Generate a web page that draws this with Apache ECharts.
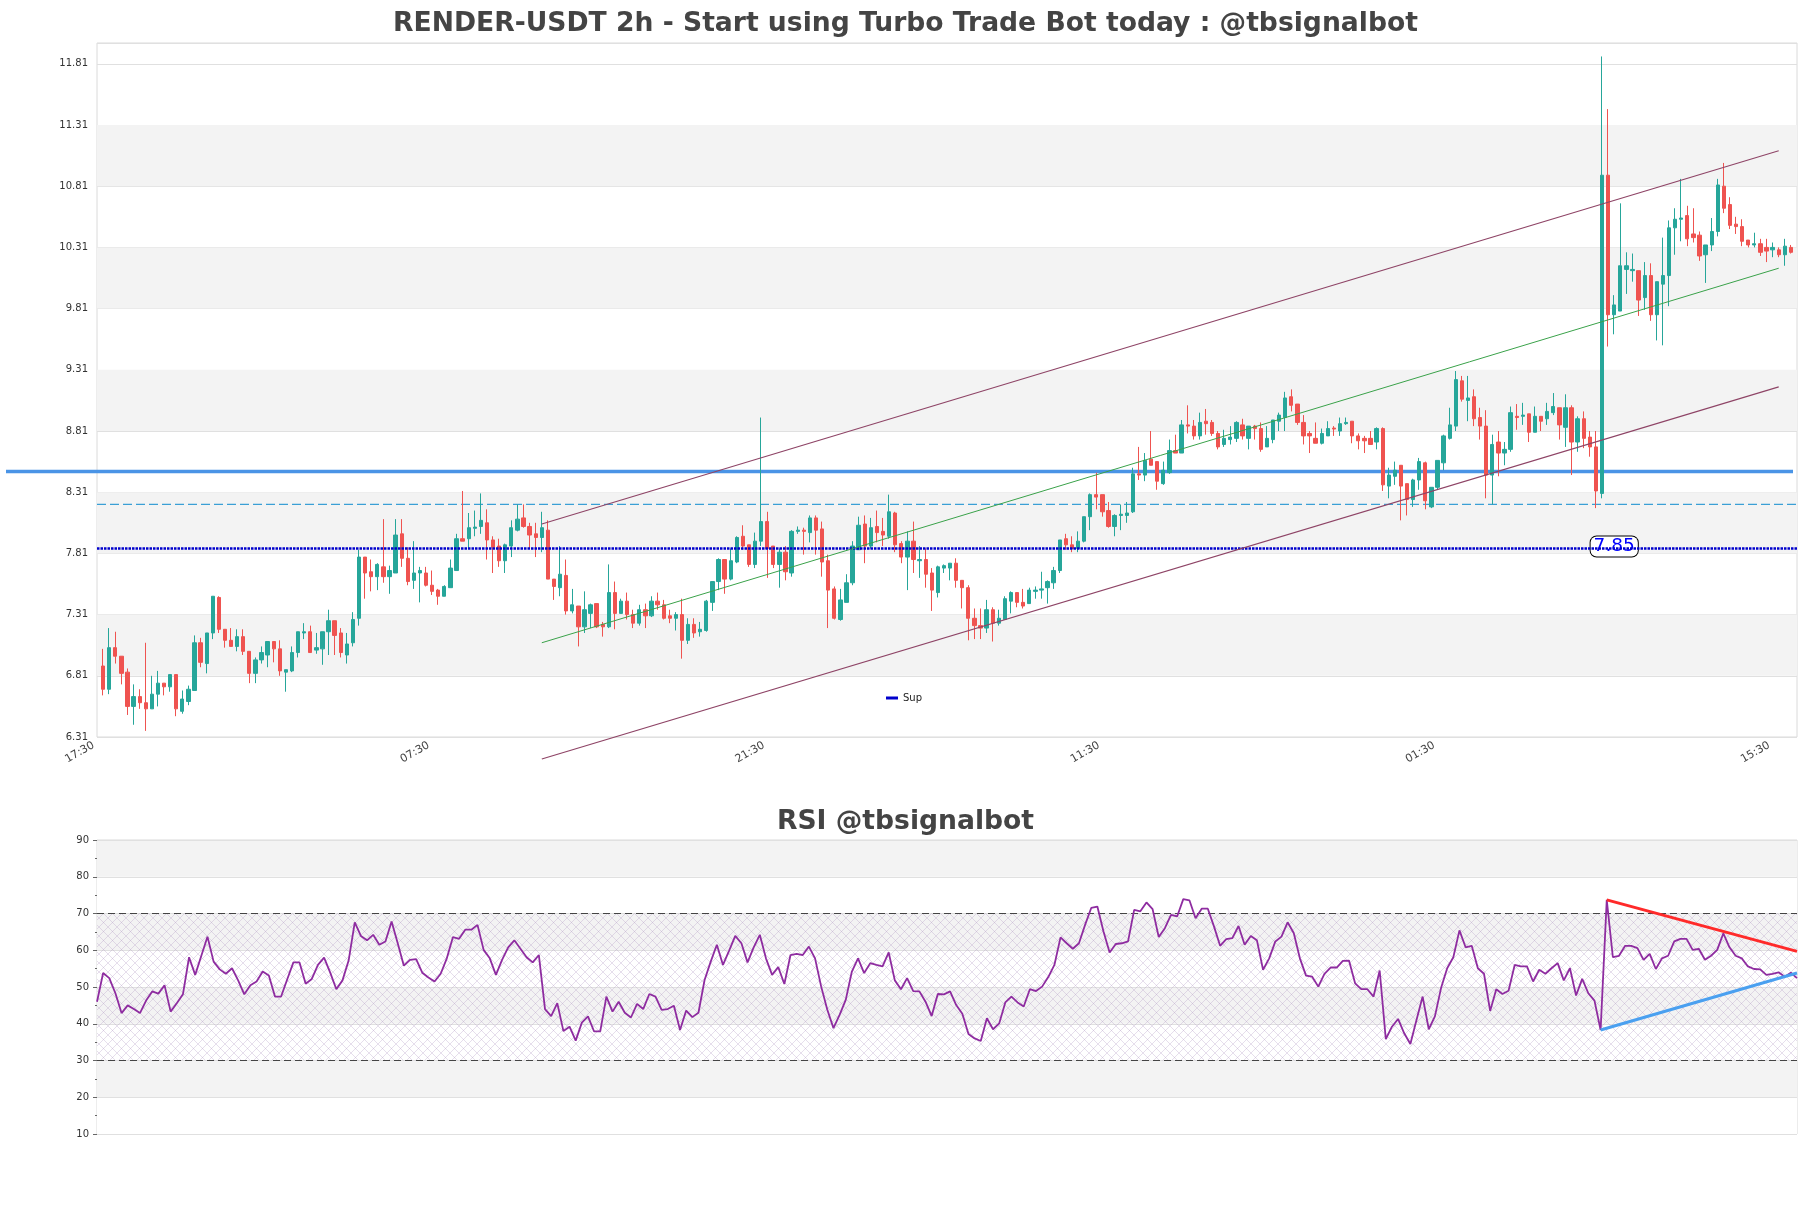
<!DOCTYPE html>
<html><head><meta charset="utf-8">
<script src="https://cdn.jsdelivr.net/npm/echarts@6/dist/echarts.min.js"></script>
<style>html,body{margin:0;padding:0;background:#fff}#c{width:1811px;height:1208px}</style>
</head><body><div id="c"></div><script>
// ---- data ----
const open=[6.89,6.70,7.04,6.97,6.84,6.56,6.64,6.59,6.54,6.66,6.75,6.72,6.82,6.52,6.60,6.69,7.08,6.91,7.16,7.45,7.19,7.10,7.05,7.13,7.01,6.83,6.94,6.98,7.09,7.03,6.84,6.85,7.00,7.16,7.17,7.02,7.03,7.17,7.26,7.16,6.98,7.08,7.28,7.78,7.66,7.62,7.70,7.62,7.65,7.97,7.77,7.59,7.65,7.65,7.55,7.51,7.46,7.53,7.67,7.93,7.93,8.015,8.03,8.06,7.92,7.87,7.75,7.87,8.00,8.10,8.03,7.97,7.94,8.00,7.60,7.53,7.63,7.34,7.38,7.21,7.32,7.40,7.23,7.21,7.49,7.32,7.42,7.31,7.24,7.35,7.30,7.42,7.39,7.30,7.28,7.31,7.10,7.23,7.17,7.18,7.41,7.58,7.76,7.60,7.74,7.95,7.88,7.72,7.91,8.07,7.87,7.72,7.82,7.65,7.99,8.00,7.98,8.10,8.01,7.75,7.52,7.27,7.41,7.57,7.84,8.05,7.87,8.03,7.99,7.95,8.14,7.89,7.78,7.91,7.75,7.76,7.65,7.49,7.69,7.69,7.73,7.59,7.53,7.28,7.22,7.20,7.35,7.24,7.27,7.42,7.49,7.41,7.40,7.50,7.51,7.53,7.57,7.67,7.93,7.88,7.85,7.91,8.11,8.29,8.29,8.16,8.03,8.12,8.12,8.15,8.46,8.45,8.58,8.56,8.38,8.47,8.65,8.63,8.86,8.85,8.77,8.89,8.88,8.79,8.70,8.74,8.75,8.86,8.75,8.85,8.83,8.68,8.74,8.89,8.92,9.09,9.03,8.88,8.79,8.75,8.71,8.77,8.834,8.81,8.87,8.89,8.77,8.75,8.75,8.72,8.83,8.36,8.44,8.53,8.38,8.25,8.41,8.55,8.19,8.35,8.55,8.75,8.85,9.22,9.06,9.09,8.92,8.85,8.45,8.72,8.63,8.66,8.93,8.93,8.95,8.80,8.93,8.91,8.96,9.00,8.84,9.00,8.72,8.91,8.76,8.68,8.30,10.90,9.76,9.79,10.13,10.12,10.12,9.90,10.08,9.76,10.01,10.08,10.47,10.54,10.57,10.42,10.41,10.25,10.33,10.44,10.81,10.66,10.50,10.48,10.37,10.33,10.34,10.31,10.29,10.29,10.25,10.31];
const close=[6.70,7.04,6.97,6.83,6.56,6.64,6.59,6.54,6.66,6.75,6.72,6.82,6.54,6.62,6.70,7.08,6.92,7.16,7.46,7.19,7.10,7.05,7.13,7.01,6.83,6.94,7.00,7.09,7.03,6.85,6.86,7.00,7.17,7.17,7.00,7.04,7.17,7.26,7.14,7.00,7.07,7.27,7.78,7.65,7.62,7.72,7.62,7.67,7.96,7.77,7.58,7.65,7.67,7.55,7.50,7.46,7.54,7.69,7.93,7.91,8.02,8.025,8.08,7.92,7.86,7.75,7.88,8.02,8.09,8.03,7.96,7.94,8.02,7.60,7.54,7.64,7.34,7.39,7.21,7.35,7.39,7.21,7.21,7.49,7.32,7.42,7.31,7.24,7.35,7.30,7.42,7.39,7.28,7.28,7.31,7.10,7.23,7.16,7.19,7.42,7.58,7.76,7.60,7.75,7.94,7.87,7.72,7.91,8.07,7.85,7.72,7.82,7.66,7.99,8.00,7.99,8.10,8.00,7.74,7.51,7.28,7.43,7.57,7.87,8.04,7.87,8.02,7.98,7.96,8.15,7.88,7.78,7.91,7.76,7.76,7.64,7.51,7.70,7.71,7.73,7.59,7.53,7.28,7.22,7.20,7.35,7.24,7.28,7.44,7.49,7.41,7.38,7.51,7.51,7.52,7.58,7.67,7.92,7.88,7.85,7.91,8.11,8.29,8.27,8.15,8.03,8.12,8.13,8.14,8.46,8.45,8.57,8.53,8.40,8.49,8.65,8.63,8.86,8.85,8.77,8.88,8.87,8.79,8.68,8.75,8.76,8.88,8.77,8.85,8.83,8.66,8.75,8.90,8.94,9.08,9.02,8.88,8.77,8.77,8.71,8.79,8.83,8.826,8.87,8.88,8.77,8.73,8.73,8.70,8.83,8.37,8.45,8.49,8.36,8.25,8.41,8.56,8.24,8.35,8.57,8.77,8.86,9.23,9.07,9.08,8.91,8.85,8.45,8.70,8.63,8.66,8.96,8.92,8.94,8.80,8.93,8.89,8.97,9.01,8.86,9.00,8.72,8.91,8.75,8.68,8.32,10.90,9.76,9.84,10.16,10.16,10.13,9.88,10.08,9.76,10.03,10.08,10.47,10.54,10.55,10.38,10.39,10.24,10.33,10.44,10.82,10.63,10.49,10.48,10.36,10.33,10.34,10.27,10.28,10.31,10.25,10.32,10.27];
const low=[6.65,6.66,6.91,6.74,6.49,6.41,6.54,6.36,6.54,6.56,6.65,6.68,6.48,6.50,6.57,6.69,6.88,6.83,7.11,7.16,7.04,7.05,7.01,6.98,6.75,6.75,6.91,6.88,6.92,6.81,6.68,6.84,6.96,7.11,7.00,6.99,6.90,6.98,6.98,6.96,6.91,7.05,7.22,7.44,7.50,7.51,7.57,7.48,7.65,7.70,7.55,7.52,7.41,7.54,7.47,7.39,7.46,7.53,7.67,7.91,7.85,7.95,7.97,7.76,7.65,7.70,7.65,7.78,7.99,8.02,7.85,7.78,7.82,7.60,7.43,7.46,7.31,7.32,7.05,7.16,7.20,7.20,7.13,7.20,7.19,7.32,7.27,7.20,7.22,7.20,7.29,7.35,7.27,7.24,7.18,6.95,7.07,7.12,7.13,7.17,7.34,7.51,7.48,7.59,7.73,7.84,7.70,7.69,7.87,7.61,7.69,7.53,7.59,7.62,7.97,7.80,7.90,7.80,7.62,7.20,7.27,7.26,7.41,7.55,7.84,7.73,7.85,7.90,7.87,7.93,7.82,7.73,7.51,7.65,7.61,7.53,7.34,7.45,7.65,7.59,7.53,7.36,7.10,7.11,7.11,7.16,7.09,7.22,7.27,7.32,7.37,7.36,7.40,7.44,7.44,7.40,7.52,7.65,7.84,7.82,7.82,7.90,8.00,8.17,8.11,8.02,7.95,8.00,8.06,8.14,8.41,8.40,8.53,8.33,8.37,8.46,8.63,8.63,8.79,8.74,8.74,8.78,8.77,8.66,8.68,8.70,8.72,8.74,8.66,8.74,8.64,8.68,8.71,8.81,8.81,8.97,8.86,8.70,8.63,8.71,8.70,8.77,8.77,8.77,8.86,8.71,8.66,8.63,8.70,8.66,8.32,8.26,8.37,8.08,8.12,8.19,8.33,8.17,8.18,8.33,8.49,8.74,8.81,9.05,8.89,8.85,8.74,8.26,8.21,8.44,8.53,8.64,8.82,8.86,8.72,8.80,8.81,8.86,8.94,8.74,8.68,8.45,8.64,8.67,8.60,8.18,8.26,9.50,9.60,9.79,9.93,10.03,9.75,9.80,9.71,9.55,9.51,9.83,10.25,10.36,10.32,10.35,10.20,10.02,10.28,10.40,10.59,10.46,10.42,10.32,10.31,10.31,10.24,10.19,10.23,10.23,10.16,10.26];
const high=[7.03,7.20,7.17,6.97,6.87,6.74,6.70,7.08,6.81,6.85,6.75,6.82,6.82,6.69,6.73,7.14,7.12,7.16,7.46,7.46,7.19,7.20,7.19,7.19,7.01,6.96,7.05,7.09,7.09,7.10,6.86,7.05,7.17,7.24,7.22,7.16,7.17,7.35,7.26,7.20,7.16,7.33,7.84,7.78,7.76,7.73,8.09,7.71,8.09,8.09,7.86,7.91,7.70,7.70,7.67,7.52,7.55,7.76,7.97,8.32,8.14,8.16,8.30,8.17,7.95,7.93,7.89,8.08,8.21,8.21,8.06,8.06,8.15,8.08,7.60,7.87,7.76,7.52,7.38,7.50,7.40,7.40,7.25,7.72,7.58,7.44,7.49,7.35,7.39,7.40,7.46,7.49,7.43,7.35,7.33,7.44,7.28,7.28,7.25,7.43,7.58,7.77,7.76,7.85,7.95,8.04,7.88,7.98,8.92,8.15,7.87,7.85,7.87,8.00,8.03,8.02,8.12,8.12,8.07,7.80,7.54,7.52,7.64,7.91,8.11,8.12,8.10,8.16,8.10,8.29,8.15,7.91,7.99,8.07,7.87,7.85,7.69,7.71,7.72,7.73,7.77,7.59,7.55,7.36,7.36,7.43,7.37,7.35,7.46,7.50,7.49,7.52,7.53,7.54,7.66,7.59,7.70,7.92,7.97,7.95,7.99,8.11,8.30,8.47,8.29,8.23,8.13,8.21,8.23,8.51,8.68,8.63,8.81,8.56,8.56,8.74,8.78,8.90,9.02,8.90,8.96,8.99,8.90,8.81,8.82,8.85,8.89,8.91,8.85,8.86,8.88,8.85,8.90,8.96,9.13,9.15,9.03,8.94,8.81,8.88,8.83,8.89,8.85,8.92,8.92,8.89,8.79,8.77,8.81,8.84,8.84,8.51,8.56,8.53,8.38,8.42,8.59,8.56,8.35,8.57,8.78,9.00,9.30,9.26,9.26,9.15,9.00,8.98,8.78,8.81,8.72,9.01,9.03,9.04,8.95,9.01,8.93,9.04,9.12,9.00,9.11,9.02,8.93,8.97,8.81,8.81,11.87,11.44,9.92,10.67,10.27,10.26,10.12,10.19,10.18,10.03,10.39,10.53,10.63,10.87,10.65,10.63,10.44,10.33,10.55,10.87,11.00,10.72,10.56,10.54,10.37,10.43,10.38,10.38,10.35,10.31,10.38,10.33];
const rsi=[46.0,53.8,52.4,48.3,42.9,45.0,44.0,42.9,46.3,48.8,48.2,50.5,43.3,45.6,48.0,58.1,53.3,58.5,63.7,56.9,54.8,53.6,55.1,51.8,48.0,50.5,51.5,54.2,53.1,47.4,47.4,52.1,56.7,56.7,50.9,52.2,56.0,58.0,53.9,49.4,51.8,57.2,67.6,63.9,62.7,64.2,61.5,62.4,67.8,61.9,55.8,57.4,57.6,53.9,52.6,51.5,53.6,57.8,63.6,63.1,65.6,65.6,66.9,60.1,57.8,53.3,57.4,60.8,62.7,60.4,58.1,56.7,58.7,44.0,42.1,45.6,38.0,39.2,35.4,40.3,42.0,37.9,37.9,47.4,43.3,46.0,43.0,41.7,45.4,44.0,48.1,47.4,43.8,44.0,44.9,38.3,43.6,41.8,43.0,51.9,56.9,61.5,56.0,59.9,63.9,61.9,56.7,60.8,64.2,57.8,53.3,55.4,50.8,58.7,59.0,58.7,61.0,57.8,50.1,43.8,38.8,42.4,46.5,54.2,57.8,53.8,56.5,56.0,55.6,59.4,51.8,49.4,52.4,48.9,48.8,46.0,42.1,48.1,48.0,48.8,45.1,42.7,37.2,36.0,35.3,41.5,38.5,40.1,45.8,47.4,45.8,44.7,49.4,48.9,50.1,52.7,56.0,63.5,61.9,60.4,61.9,66.9,71.5,71.9,65.1,59.4,61.7,61.9,62.4,71.0,70.6,73.0,71.2,63.6,66.0,69.6,69.2,73.9,73.6,68.7,71.3,71.3,66.5,61.2,63.0,63.3,66.6,61.5,63.9,62.7,54.7,57.8,62.4,63.7,67.6,64.7,57.8,53.1,52.8,50.1,53.6,55.3,55.3,57.1,57.2,51.0,49.4,49.4,47.4,54.5,35.8,39.2,41.3,37.4,34.5,41.0,47.4,38.5,42.0,49.7,55.1,58.1,65.4,60.8,61.2,55.1,53.6,43.5,49.4,48.1,49.0,56.0,55.6,55.6,51.5,54.7,53.6,55.1,56.5,51.8,55.1,47.7,52.2,48.3,46.3,38.3,73.7,58.1,58.5,61.2,61.2,60.6,57.4,59.0,54.9,57.8,58.5,62.4,63.1,63.1,60.1,60.4,57.4,58.5,60.1,64.6,60.8,58.5,57.8,55.6,54.9,54.8,53.3,53.6,54.0,52.8,53.9,52.4];
const timeLabels=['17:30','07:30','21:30','11:30','01:30','15:30'];
const labelEvery=55;
const priceMin=6.31, priceMax=11.98, priceStep=0.5;
const rsiMin=10, rsiMax=90, rsiStep=10;
const resistLevel=8.48, dashLevel=8.21, supLevel=7.85, supLabelAt=248;
const chanUpper=[[72,8.05],[275,11.10]];
const chanLower=[[72,6.13],[275,9.17]];
const chanMid=[[72,7.08],[275,10.14]];
const rsiDownLine=[[246,73.7],[277,59.7]];
const rsiUpLine=[[245,38.3],[277,53.8]];
const rsiHigh=70, rsiLow=30;

// ---- build ----
const N=open.length;
const cats=['']; for(let i=0;i<N;i++) cats.push(String(i)); cats.push('');
const candles=open.map((o,i)=>[i+1,o,close[i],low[i],high[i]]);
const shift=a=>a.map(p=>[p[0]+1,p[1]]);
const rsiCats=rsi.map((_,i)=>String(i));

const pc=document.createElement('canvas'); pc.width=9; pc.height=9;
const g=pc.getContext('2d'); g.strokeStyle='rgba(175,150,195,0.45)'; g.lineWidth=0.7;
g.beginPath(); g.moveTo(0,0); g.lineTo(9,9); g.moveTo(9,0); g.lineTo(0,9); g.stroke();

const FONT='DejaVu Sans';
const chart=echarts.init(document.getElementById('c'),null,{renderer:'canvas'});
const greyBands=[];
for(let v=priceMin+priceStep; v+priceStep<=priceMax+1e-9; v+=2*priceStep) greyBands.push([{yAxis:+v.toFixed(2),itemStyle:{color:'#f3f3f3'}},{yAxis:+(v+priceStep).toFixed(2)}]);
const lastTick=priceMin+priceStep*Math.floor((priceMax-priceMin)/priceStep+1e-9);

const option={
  animation:false,
  textStyle:{fontFamily:FONT},
  title:[
    {text:'RENDER-USDT 2h - Start using Turbo Trade Bot today : @tbsignalbot',left:'center',top:11,padding:0,
     textStyle:{fontFamily:FONT,fontWeight:'bold',fontSize:26.6,color:'#444'}},
    {text:'RSI @tbsignalbot',left:'center',top:809,padding:0,
     textStyle:{fontFamily:FONT,fontWeight:'bold',fontSize:26.6,color:'#444'}}
  ],
  legend:{data:['Sup'],left:881,top:688,icon:'rect',itemWidth:12,itemHeight:3,itemGap:6,
    textStyle:{fontFamily:FONT,fontSize:10,color:'#222'}},
  grid:[
    {left:97,right:14,top:43,bottom:471,show:true,borderColor:'#dadada',borderWidth:1,backgroundColor:'transparent'},
    {left:97,right:14,top:840,bottom:74,show:true,borderColor:'#dadada',borderWidth:1,backgroundColor:'transparent'}
  ],
  xAxis:[
    {type:'category',gridIndex:0,data:cats,boundaryGap:false,
     axisLine:{show:false},
     axisTick:{show:false},
     axisLabel:{interval:0,rotate:30,fontSize:11,color:'#444',margin:2,padding:[0,11,0,0],fontFamily:FONT,
       formatter:(v,idx)=>{const k=idx-1; return (k>=0&&k%labelEvery===0&&k/labelEvery<timeLabels.length)?timeLabels[k/labelEvery]:'';}},
     splitLine:{show:false}},
    {type:'category',gridIndex:1,data:rsiCats,boundaryGap:false,axisLine:{show:false},axisTick:{show:false},axisLabel:{show:false},splitLine:{show:false}}
  ],
  yAxis:[
    {type:'value',gridIndex:0,min:priceMin,max:priceMax,interval:priceStep,scale:true,
     axisLine:{show:false},axisTick:{show:false},
     axisLabel:{fontSize:10,color:'#333',margin:9,fontFamily:FONT,showMaxLabel:false,formatter:v=>v.toFixed(2)},
     splitLine:{show:true,lineStyle:{color:'#e0e0e0',width:1}},splitArea:{show:false}},
    {type:'value',gridIndex:1,min:rsiMin,max:rsiMax,interval:rsiStep,
     axisLine:{show:false},axisTick:{show:true,length:4,lineStyle:{color:'#666'}},
     minorTick:{show:true,splitNumber:2,length:2,lineStyle:{color:'#666'}},
     axisLabel:{fontSize:10,color:'#333',margin:8,fontFamily:FONT},
     splitLine:{show:true,lineStyle:{color:'#e0e0e0'}},
     splitArea:{show:true,areaStyle:{color:['#ffffff','#f3f3f3']}}}
  ],
  series:[
    {type:'line',name:'bands',xAxisIndex:0,yAxisIndex:0,data:[],silent:true,z:0,
     markArea:{silent:true,data:greyBands}},
    {type:'line',name:'dash',xAxisIndex:0,yAxisIndex:0,data:[[0,dashLevel],[N+1,dashLevel]],symbol:'none',silent:true,z:3,
     lineStyle:{color:'#3a9fd5',width:1.3,type:[9,4]}},
    {type:'candlestick',name:'price',xAxisIndex:0,yAxisIndex:0,data:candles,encode:{x:0,y:[1,2,3,4]},barWidth:3.8,z:4,
     itemStyle:{color:'#26a69a',color0:'#ef5350',borderColor:'#26a69a',borderColor0:'#ef5350',borderWidth:1}},
    {type:'line',name:'Sup',xAxisIndex:0,yAxisIndex:0,data:[[0,supLevel],[N+1,supLevel]],symbol:'none',z:5,
     itemStyle:{color:'#0000cc'},lineStyle:{color:'#0000cc',width:2.5,type:[2.5,1]},
     markPoint:{symbol:'rect',symbolSize:1,symbolOffset:[0,-2],itemStyle:{color:'transparent'},
       data:[{coord:[supLabelAt+1,supLevel],value:supLevel}],
       label:{show:true,position:'inside',formatter:p=>p.value.toFixed(2),fontSize:18.5,color:'#0000ff',fontFamily:FONT,
         backgroundColor:'#fff',borderColor:'#000',borderWidth:1,borderRadius:6,padding:[1,3,0,3]}}},
    {type:'line',name:'chU',xAxisIndex:0,yAxisIndex:0,data:shift(chanUpper),symbol:'none',clip:false,z:6,lineStyle:{color:'#8e4466',width:1.2}},
    {type:'line',name:'chL',xAxisIndex:0,yAxisIndex:0,data:shift(chanLower),symbol:'none',clip:false,z:6,lineStyle:{color:'#8e4466',width:1.2}},
    {type:'line',name:'chM',xAxisIndex:0,yAxisIndex:0,data:shift(chanMid),symbol:'none',clip:false,z:6,lineStyle:{color:'#3aa24a',width:1}},
    {type:'line',name:'rsi',xAxisIndex:1,yAxisIndex:1,data:rsi,symbol:'none',z:5,lineStyle:{color:'#8e2ca0',width:1.8},
     markArea:{silent:true,itemStyle:{color:{image:pc,repeat:'repeat'}},data:[[{yAxis:rsiLow},{yAxis:rsiHigh}]]},
     markLine:{silent:true,symbol:'none',label:{show:false},lineStyle:{color:'#444',width:1.2,type:[7,4]},
       data:[{yAxis:rsiHigh},{yAxis:rsiLow}]}},
    {type:'line',name:'rsiDown',xAxisIndex:1,yAxisIndex:1,data:rsiDownLine,symbol:'none',z:6,lineStyle:{color:'#ff2a2a',width:3}},
    {type:'line',name:'rsiUp',xAxisIndex:1,yAxisIndex:1,data:rsiUpLine,symbol:'none',z:6,lineStyle:{color:'#4aa0f0',width:3}}
  ]
};
chart.setOption(option);
const yR=chart.convertToPixel({yAxisIndex:0},resistLevel);
const xR=chart.convertToPixel({xAxisIndex:0},N+1);
const yTop=chart.convertToPixel({yAxisIndex:0},priceMax);
const yLast=chart.convertToPixel({yAxisIndex:0},lastTick);
const xL=chart.convertToPixel({xAxisIndex:0},0);
chart.setOption({graphic:[
  {type:'rect',shape:{x:xL+0.5,y:yTop+0.5,width:xR-xL-1,height:yLast-yTop-1},style:{fill:'#fff'},z:-1,silent:true},
  {type:'line',shape:{x1:6,y1:yR,x2:xR-4,y2:yR},style:{stroke:'#4a94e6',lineWidth:3.5},z:3,silent:true}
]});
</script></body></html>
